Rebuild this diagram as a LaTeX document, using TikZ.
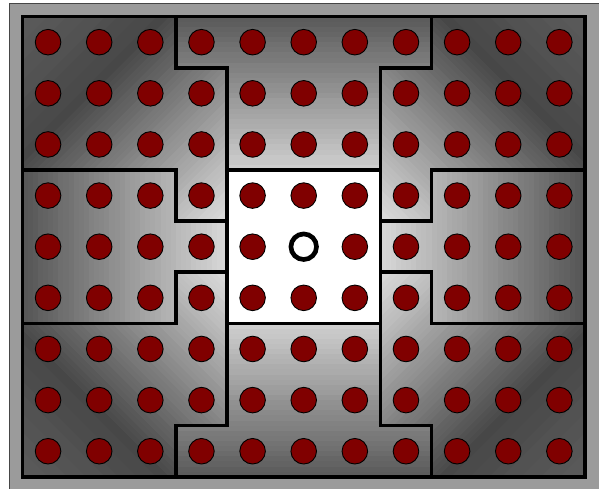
\documentclass[tikz,border=0pt]{standalone}
\definecolor{dotred}{RGB}{128,0,0}
\definecolor{framegray}{RGB}{155,155,155}
\definecolor{frameline}{RGB}{70,70,70}

% corner region fill (top-left orientation), diagonal gradient
\newcommand\cornerfill{%
  \begin{scope}
    \clip (0,0) -- (3,0) -- (3,1) -- (4,1) -- (4,4) -- (3,4) -- (3,3) -- (0,3) -- cycle;
    \foreach \k in {0,...,63} {
      \pgfmathsetmacro\sa{\k*0.125}
      \pgfmathsetmacro\sb{\sa+0.14}
      \pgfmathsetmacro\sm{\sa+0.0625}
      \pgfmathsetmacro\vr{\sm<2.8 ? 36-8*\sm/2.8 : 28+59*(\sm-2.8)/5.2}
      \pgfmathtruncatemacro\vv{\vr+0.5}
      \fill[white!\vv!black] (\sa+6,-6) -- (\sb+6,-6) -- (\sb-6,6) -- (\sa-6,6) -- cycle;
    }
  \end{scope}}

% top edge region fill, vertical gradient
\newcommand\topfill{%
  \begin{scope}
    \clip (3,0) -- (8,0) -- (8,1) -- (7,1) -- (7,3) -- (4,3) -- (4,1) -- (3,1) -- cycle;
    \foreach \k in {0,...,29} {
      \pgfmathsetmacro\ya{\k*0.1}
      \pgfmathsetmacro\yb{\ya+0.12}
      \pgfmathtruncatemacro\vv{35+15.5*(\ya+0.05)+0.5}
      \fill[white!\vv!black] (2.9,\ya) rectangle (8.1,\yb);
    }
  \end{scope}}

% left edge region fill, horizontal gradient
\newcommand\leftfill{%
  \begin{scope}
    \clip (0,3) -- (3,3) -- (3,4) -- (4,4) -- (4,5) -- (3,5) -- (3,6) -- (0,6) -- cycle;
    \foreach \k in {0,...,39} {
      \pgfmathsetmacro\xa{\k*0.1}
      \pgfmathsetmacro\xb{\xa+0.12}
      \pgfmathtruncatemacro\vv{33+13*(\xa+0.05)+0.5}
      \fill[white!\vv!black] (\xa,2.9) rectangle (\xb,6.1);
    }
  \end{scope}}

\begin{document}
\begin{tikzpicture}[x=1cm, y=-1cm,
  wall/.style={line width=2pt, line join=miter},
  peg/.style={circle, draw=black, line width=0.5pt, fill=dotred,
              minimum size=0.5cm, inner sep=0pt},
  hole/.style={circle, draw=black, line width=2.6pt, fill=white,
               minimum size=0.5cm, inner sep=0pt}]
\useasboundingbox (-0.44,-0.325) rectangle (11.275,9.22);

% outer gray frame
\draw[fill=framegray, draw=frameline, line width=0.6pt] (-0.25,-0.25) rectangle (11.7,9.7);

% region fills
\cornerfill
\begin{scope}[shift={(11,0)}, xscale=-1] \cornerfill \end{scope}
\begin{scope}[shift={(0,9)}, yscale=-1] \cornerfill \end{scope}
\begin{scope}[shift={(11,9)}, xscale=-1, yscale=-1] \cornerfill \end{scope}
\topfill
\begin{scope}[shift={(0,9)}, yscale=-1] \topfill \end{scope}
\leftfill
\begin{scope}[shift={(11,0)}, xscale=-1] \leftfill \end{scope}
\fill[white] (4,3) rectangle (7,6);

% region walls
\draw[wall] (0,0) -- (3,0) -- (3,1) -- (4,1) -- (4,4) -- (3,4) -- (3,3) -- (0,3) -- cycle;
\draw[wall] (3,0) -- (8,0) -- (8,1) -- (7,1) -- (7,3) -- (4,3) -- (4,1) -- (3,1) -- cycle;
\draw[wall] (8,0) -- (11,0) -- (11,3) -- (8,3) -- (8,4) -- (7,4) -- (7,1) -- (8,1) -- cycle;
\draw[wall] (0,3) -- (3,3) -- (3,4) -- (4,4) -- (4,5) -- (3,5) -- (3,6) -- (0,6) -- cycle;
\draw[wall] (4,3) rectangle (7,6);
\draw[wall] (11,3) -- (8,3) -- (8,4) -- (7,4) -- (7,5) -- (8,5) -- (8,6) -- (11,6) -- cycle;
\draw[wall] (0,6) -- (3,6) -- (3,5) -- (4,5) -- (4,8) -- (3,8) -- (3,9) -- (0,9) -- cycle;
\draw[wall] (4,6) -- (7,6) -- (7,8) -- (8,8) -- (8,9) -- (3,9) -- (3,8) -- (4,8) -- cycle;
\draw[wall] (7,5) -- (8,5) -- (8,6) -- (11,6) -- (11,9) -- (8,9) -- (8,8) -- (7,8) -- cycle;
\draw[wall] (0,0) rectangle (11,9);

% pegs
\foreach \c in {0,...,10} {
  \foreach \r in {0,...,8} {
    \ifnum\numexpr 10*\c+\r\relax=54 \else
      \node[peg] (p-\c-\r) at (\c+0.5,\r+0.5) {};
    \fi
  }
}
\node[hole] (centre) at (5.5,4.5) {};
\end{tikzpicture}
\end{document}
